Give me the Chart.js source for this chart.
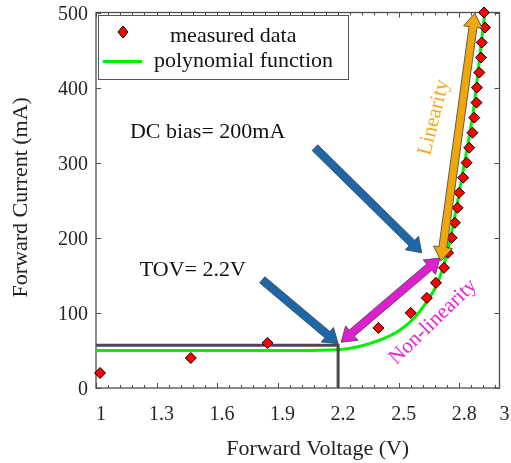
<!DOCTYPE html>
<html><head><meta charset="utf-8">
<script src="https://cdn.jsdelivr.net/npm/chart.js@4/dist/chart.umd.min.js"></script>
<style>html,body{margin:0;padding:0;background:#fff;overflow:hidden}</style>
</head><body>
<canvas id="c" width="511" height="463"></canvas>
<script>
// ---- data ----
const measuredCurrent = [20,40,60,80,100,120,140,160,180,200,220,240,260,280,300,320,340,360,380,400,420,440,460,480,500];
const measuredVoltage = [1.02,1.47,1.85,2.40,2.56,2.64,2.685,2.725,2.745,2.763,2.779,2.792,2.80,2.82,2.837,2.85,2.866,2.875,2.886,2.888,2.90,2.908,2.912,2.928,2.923];
const polyVoltage = [1.0,1.6,2.0,2.2,2.3,2.4,2.5,2.58,2.64,2.69,2.72,2.745,2.765,2.79,2.82,2.85,2.875,2.9,2.928];
const polyCurrent = [50,50,50,51,55,63,76,94,115,138,160,185,210,245,290,335,378,437,500];
const tovLineVoltage = [1, 2.2, 2.2];
const tovLineCurrent = [57, 57, 0];
const xTickValues = [1,1.3,1.6,1.9,2.2,2.5,2.8,3];
const xTickLabels = ['1','1.3','1.6','1.9','2.2','2.5','2.8','3'];
const yTickValues = [0,100,200,300,400,500];
const yTickLabels = ['0','100','200','300','400','500'];
const seriesNames = ['measured data','polynomial function'];
const xTitle = 'Forward Voltage (V)';
const yTitle = 'Forward Current (mA)';

// ---- annotations (data coordinates) ----
const arrows = [
  {from:[1.824,144], to:[2.20,59], color:'#1C67A8', double:false},
  {from:[2.085,320], to:[2.615,180], color:'#1C67A8', double:false},
  {from:[2.215,61], to:[2.705,173], color:'#DD1FCF', double:true},
  {from:[2.71,169], to:[2.878,499], color:'#EFA80C', double:true}
];
const labels = [
  {text:'DC bias= 200mA', at:[1.168,340], color:'#111', size:22, rot:0, align:'left'},
  {text:'TOV= 2.2V', at:[1.217,157], color:'#111', size:22, rot:0, align:'left'},
  {text:'Linearity', at:[2.675,360], color:'#F2A81D', size:21, rot:-76, align:'center'},
  {text:'Non-linearity', at:[2.671,88], color:'#EE22DD', size:21, rot:-44, align:'center'}
];

const FONT = "'Liberation Serif', 'Times New Roman', serif";

function blockArrow(ctx, x1, y1, x2, y2, shaftW, headW, headL, dbl, fill) {
  const dx = x2 - x1, dy = y2 - y1, len = Math.hypot(dx, dy);
  const ux = dx / len, uy = dy / len, nx = -uy, ny = ux;
  let local;
  if (dbl) {
    local = [[0,0],[headL,headW/2],[headL,shaftW/2],[len-headL,shaftW/2],[len-headL,headW/2],[len,0],
             [len-headL,-headW/2],[len-headL,-shaftW/2],[headL,-shaftW/2],[headL,-headW/2]];
  } else {
    local = [[0,shaftW/2],[len-headL,shaftW/2],[len-headL,headW/2],[len,0],[len-headL,-headW/2],
             [len-headL,-shaftW/2],[0,-shaftW/2]];
  }
  ctx.beginPath();
  local.forEach(([t, s], i) => {
    const px = x1 + ux * t + nx * s, py = y1 + uy * t + ny * s;
    if (i) ctx.lineTo(px, py); else ctx.moveTo(px, py);
  });
  ctx.closePath();
  ctx.fillStyle = fill;
  ctx.fill();
  ctx.strokeStyle = 'rgba(70,70,70,0.85)';
  ctx.lineWidth = 1;
  ctx.stroke();
}

function noPad(s) { s.paddingTop = 0; s.paddingBottom = 0; s.paddingLeft = 0; s.paddingRight = 0; }

const framePlugin = {
  id: 'frame',
  beforeDatasetsDraw(chart) {
    const {ctx, chartArea: a, scales: {x, y}} = chart;
    ctx.save();
    ctx.strokeStyle = '#4d4d4d';
    ctx.lineWidth = 1.3;
    ctx.strokeRect(a.left, a.top, a.right - a.left, a.bottom - a.top);
    ctx.lineWidth = 1;
    ctx.beginPath();
    for (let k = 0; k <= 33; k++) {
      const px = Math.round(x.getPixelForValue(1 + 0.06 * k)) + 0.5;
      const L = (k % 5 === 0) ? 5 : 3;
      ctx.moveTo(px, a.bottom); ctx.lineTo(px, a.bottom - L);
      ctx.moveTo(px, a.top); ctx.lineTo(px, a.top + L);
    }
    yTickValues.forEach(v => {
      const py = Math.round(y.getPixelForValue(v)) + 0.5;
      ctx.moveTo(a.left, py); ctx.lineTo(a.left + 5, py);
      ctx.moveTo(a.right, py); ctx.lineTo(a.right - 5, py);
    });
    ctx.stroke();
    ctx.restore();
  },
  afterDatasetsDraw(chart) {
    const {ctx, chartArea: a, scales: {x, y}} = chart;
    ctx.save();
    arrows.forEach(ar => {
      const x1 = x.getPixelForValue(ar.from[0]), y1 = y.getPixelForValue(ar.from[1]);
      const x2 = x.getPixelForValue(ar.to[0]), y2 = y.getPixelForValue(ar.to[1]);
      blockArrow(ctx, x1, y1, x2, y2, 8, 19, 14, ar.double, ar.color);
    });
    labels.forEach(l => {
      const px = x.getPixelForValue(l.at[0]), py = y.getPixelForValue(l.at[1]);
      ctx.save();
      ctx.translate(px, py);
      ctx.rotate(l.rot * Math.PI / 180);
      ctx.font = l.size + 'px ' + FONT;
      ctx.fillStyle = l.color;
      ctx.textAlign = l.align;
      ctx.textBaseline = 'middle';
      ctx.fillText(l.text, 0, 0);
      ctx.restore();
    });
    // legend
    const lx = a.left + 2, ly = a.top + 2.5, lw = 250, lh = 64;
    ctx.fillStyle = '#fff';
    ctx.fillRect(lx, ly, lw, lh);
    ctx.strokeStyle = '#555';
    ctx.lineWidth = 1;
    ctx.strokeRect(Math.round(lx) + 0.5, Math.round(ly) + 0.5, lw, lh);
    const dx = lx + 25, dy = ly + 17;
    ctx.beginPath();
    ctx.moveTo(dx, dy - 6); ctx.lineTo(dx + 5, dy); ctx.lineTo(dx, dy + 6); ctx.lineTo(dx - 5, dy); ctx.closePath();
    ctx.fillStyle = '#FF0000'; ctx.fill();
    ctx.strokeStyle = '#000'; ctx.stroke();
    ctx.beginPath();
    ctx.moveTo(lx + 5, ly + 46.5); ctx.lineTo(lx + 44, ly + 46.5);
    ctx.strokeStyle = '#00F000'; ctx.lineWidth = 3; ctx.stroke();
    ctx.font = '22px ' + FONT;
    ctx.fillStyle = '#111';
    ctx.textAlign = 'left';
    ctx.textBaseline = 'alphabetic';
    ctx.fillText(seriesNames[0], lx + 72, ly + 27);
    ctx.fillText(seriesNames[1], lx + 56, ly + 52);
    // axis titles
    ctx.font = '22px ' + FONT;
    ctx.fillStyle = '#222';
    ctx.textAlign = 'center';
    ctx.textBaseline = 'middle';
    ctx.fillText(xTitle, (a.left + a.right) / 2 + 20, a.bottom + 61);
    ctx.save();
    ctx.translate(21, (a.top + a.bottom) / 2 - 3);
    ctx.rotate(-Math.PI / 2);
    ctx.fillText(yTitle, 0, 0);
    ctx.restore();
    ctx.restore();
  }
};

new Chart(document.getElementById('c'), {
  type: 'scatter',
  data: {
    datasets: [
      {
        label: seriesNames[1],
        type: 'line',
        data: polyVoltage.map((v, i) => ({x: v, y: polyCurrent[i]})),
        borderColor: '#00F000',
        borderWidth: 3,
        pointRadius: 0,
        cubicInterpolationMode: 'monotone',
        fill: false,
        clip: false,
        order: 3
      },
      {
        label: 'TOV',
        type: 'line',
        data: tovLineVoltage.map((v, i) => ({x: v, y: tovLineCurrent[i]})),
        borderColor: '#4a4a4a',
        borderWidth: 3,
        pointRadius: 0,
        tension: 0,
        fill: false,
        clip: false,
        order: 2
      },
      {
        label: seriesNames[0],
        data: measuredVoltage.map((v, i) => ({x: v, y: measuredCurrent[i]})),
        pointStyle: 'rectRot',
        pointRadius: 5.5,
        backgroundColor: '#FF0000',
        borderColor: '#000',
        borderWidth: 1,
        clip: false,
        order: 1
      }
    ]
  },
  options: {
    responsive: false,
    animation: false,
    devicePixelRatio: 1,
    layout: {padding: {top: 12.5, right: 11.5, left: 0, bottom: 0}},
    plugins: {legend: {display: false}, tooltip: {enabled: false}},
    scales: {
      x: {
        type: 'linear', min: 1, max: 3,
        afterFit: s => { s.height = 75; noPad(s); },
        afterBuildTicks: s => { s.ticks = xTickValues.map(v => ({value: v})); },
        ticks: {
          callback: (v, i) => xTickLabels[i],
          font: {family: FONT, size: 20},
          color: '#262626',
          padding: 15,
          labelOffset: 5,
          maxRotation: 0,
          autoSkip: false
        },
        grid: {display: false, drawTicks: false},
        border: {display: false}
      },
      y: {
        type: 'linear', min: 0, max: 500,
        afterFit: s => { s.width = 96; noPad(s); },
        afterBuildTicks: s => { s.ticks = yTickValues.map(v => ({value: v})); },
        ticks: {
          callback: (v, i) => yTickLabels[i],
          font: {family: FONT, size: 20},
          color: '#262626',
          padding: 8,
          labelOffset: 2,
          autoSkip: false
        },
        grid: {display: false, drawTicks: false},
        border: {display: false}
      }
    }
  },
  plugins: [framePlugin]
});
</script>
</body></html>
